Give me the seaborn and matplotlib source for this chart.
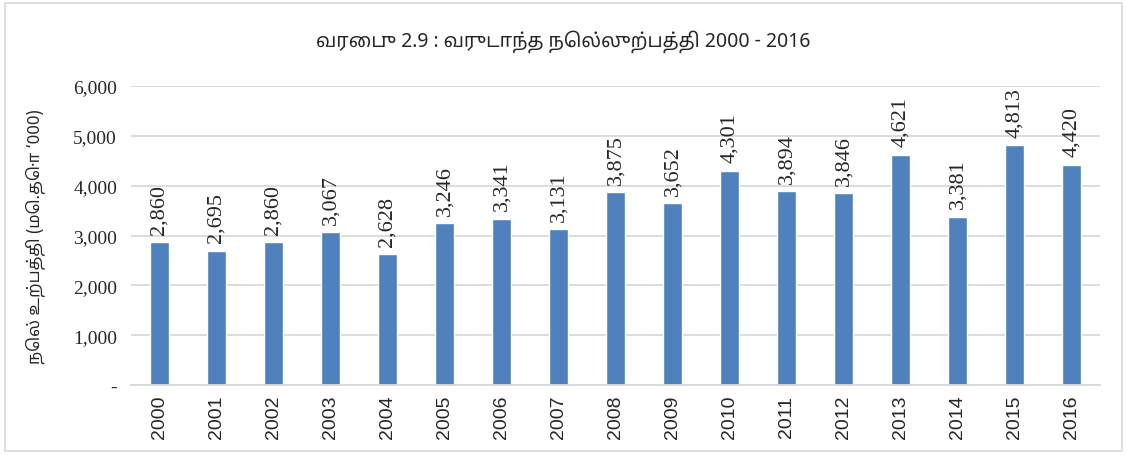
import matplotlib
matplotlib.use("Agg")
import matplotlib.pyplot as plt
import seaborn as sns
import pandas as pd
from matplotlib.patches import Rectangle

# data
years = ["2000", "2001", "2002", "2003", "2004", "2005", "2006", "2007", "2008",
         "2009", "2010", "2011", "2012", "2013", "2014", "2015", "2016"]
production = [2860, 2695, 2860, 3067, 2628, 3246, 3341, 3131, 3875,
              3652, 4301, 3894, 3846, 4621, 3381, 4813, 4420]
y_ticks = [0, 1000, 2000, 3000, 4000, 5000, 6000]
y_tick_labels = ["-", "1,000", "2,000", "3,000", "4,000", "5,000", "6,000"]

title = "வரைபு 2.9 : வருடாந்த நெல்லுற்பத்தி 2000 - 2016"
ylabel = "நெல் உற்பத்தி (மெ.தொ ‘000)"

df = pd.DataFrame({"year": years, "value": production})

sns.set_style("white")
tamil_fonts = ["Noto Sans Tamil", "Noto Serif Tamil", "Lohit Tamil", "Noto Sans", "DejaVu Sans"]

fig = plt.figure(figsize=(11.27, 4.56), dpi=100)
ax = fig.add_axes([131 / 1127, 1 - 386 / 456, (1100 - 131) / 1127, (386 - 87) / 456])

sns.barplot(data=df, x="year", y="value", color="#4F81BD", width=0.32,
            saturation=1, ax=ax)

ax.set_ylim(0, 6000)
ax.set_xlim(-0.5, 16.5)
ax.set_yticks(y_ticks)
ax.set_yticklabels(y_tick_labels, family="Liberation Serif", fontsize=14)
ax.yaxis.grid(True, color="#D9D9D9", linewidth=1.3)
ax.set_axisbelow(True)
for s in ["top", "right", "left"]:
    ax.spines[s].set_visible(False)
ax.spines["bottom"].set_color("#D9D9D9")
ax.spines["bottom"].set_linewidth(1.3)
ax.tick_params(axis="y", length=0, pad=10)
ax.tick_params(axis="x", length=0, pad=7)
plt.setp(ax.get_xticklabels(), rotation=90, family="Liberation Sans", fontsize=14)

ax.set_xlabel("")
ax.set_ylabel(ylabel, family=tamil_fonts, fontsize=12, labelpad=20)

for i, v in enumerate(production):
    ax.annotate(f"{v:,}", (i, v), xytext=(0, 6), textcoords="offset points",
                rotation=90, ha="center", va="bottom",
                family="Liberation Serif", fontsize=16)

fig.text(0.5, 1 - 42 / 456, title, ha="center", va="center",
         family=tamil_fonts, fontsize=14, fontweight="bold")

# chart area border
fig.patches.append(Rectangle((5 / 1127, 4 / 456), 1117 / 1127, 448 / 456,
                             transform=fig.transFigure, fill=False,
                             edgecolor="#D9D9D9", linewidth=1.2))

fig.savefig("out.png", dpi=100)
